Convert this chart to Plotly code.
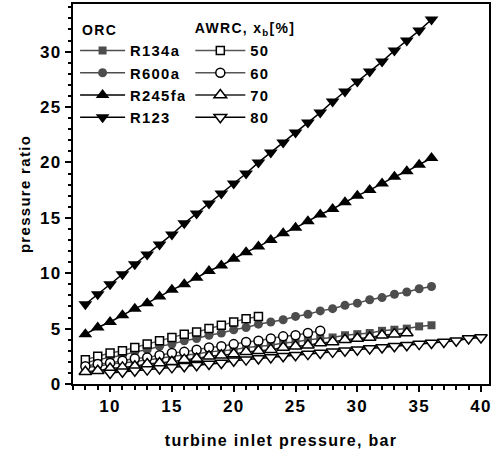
import plotly.graph_objects as go

# ---- data ----
x_orc = list(range(8, 37))
r134a = [1.5, 1.6, 1.8, 1.9, 2.0, 2.2, 2.3, 2.5, 2.6, 2.7, 2.9, 3.0, 3.1, 3.3, 3.4,
         3.5, 3.7, 3.8, 4.0, 4.1, 4.2, 4.4, 4.5, 4.6, 4.8, 4.9, 5.0, 5.2, 5.3]
r600a = [1.9, 2.2, 2.4, 2.6, 2.9, 3.1, 3.4, 3.6, 3.9, 4.1, 4.4, 4.6, 4.9, 5.1, 5.4,
         5.6, 5.8, 6.1, 6.3, 6.6, 6.8, 7.1, 7.3, 7.6, 7.8, 8.1, 8.3, 8.6, 8.8]
r245fa = [4.5, 5.1, 5.6, 6.2, 6.8, 7.3, 7.9, 8.5, 9.0, 9.6, 10.2, 10.7, 11.3, 11.9, 12.4,
          13.0, 13.6, 14.1, 14.7, 15.3, 15.8, 16.4, 17.0, 17.5, 18.1, 18.7, 19.2, 19.8, 20.4]
r123 = [7.2, 8.1, 9.0, 9.9, 10.8, 11.7, 12.6, 13.5, 14.5, 15.4, 16.3, 17.2, 18.1, 19.0, 20.0,
        20.9, 21.8, 22.7, 23.6, 24.5, 25.5, 26.4, 27.3, 28.2, 29.1, 30.1, 31.0, 31.9, 32.9]

x_50 = list(range(8, 23))
awrc_50 = [2.2, 2.5, 2.8, 3.0, 3.3, 3.6, 3.9, 4.2, 4.5, 4.7, 5.0, 5.3, 5.6, 5.9, 6.1]
x_60 = list(range(8, 28))
awrc_60 = [1.6, 1.8, 1.9, 2.1, 2.3, 2.4, 2.6, 2.8, 2.9, 3.1, 3.3, 3.4, 3.6, 3.8, 3.9,
           4.1, 4.3, 4.4, 4.6, 4.8]
x_70 = list(range(8, 35))
awrc_70 = [1.1, 1.2, 1.4, 1.5, 1.6, 1.8, 1.9, 2.0, 2.2, 2.3, 2.5, 2.6, 2.7, 2.9, 3.0,
           3.1, 3.3, 3.4, 3.5, 3.7, 3.8, 4.0, 4.1, 4.2, 4.4, 4.5, 4.6]
x_80 = list(range(10, 41))
awrc_80 = [1.0, 1.1, 1.2, 1.3, 1.4, 1.5, 1.6, 1.7, 1.8, 1.9, 2.1, 2.2, 2.3, 2.4, 2.5,
           2.6, 2.7, 2.8, 2.9, 3.0, 3.1, 3.2, 3.3, 3.4, 3.5, 3.6, 3.7, 3.8, 3.9, 4.1, 4.2]

orc_names = ["R134a", "R600a", "R245fa", "R123"]
awrc_names = ["50", "60", "70", "80"]
header_orc = "ORC"
header_awrc = "AWRC, x<sub>b</sub>[%]"

FONT = "Liberation Sans, Arial, sans-serif"

fig = go.Figure()

orc_styles = [("square", "#4d4d4d", 8), ("circle", "#4d4d4d", 9),
              ("triangle-up", "#000000", 12), ("triangle-down", "#000000", 12)]
for name, ys, (sym, col, sz) in zip(orc_names, [r134a, r600a, r245fa, r123], orc_styles):
    fig.add_trace(go.Scatter(
        x=x_orc, y=ys, name=name, mode="lines+markers", legend="legend",
        line=dict(color=col, width=1.5),
        marker=dict(symbol=sym, size=sz, color=col, line=dict(width=0)),
    ))

awrc_styles = [("square", "#555555", 8), ("circle", "#555555", 9),
               ("triangle-up", "#222222", 11), ("triangle-down", "#000000", 11)]
for name, xs, ys, (sym, col, sz) in zip(awrc_names, [x_50, x_60, x_70, x_80],
                                        [awrc_50, awrc_60, awrc_70, awrc_80], awrc_styles):
    fig.add_trace(go.Scatter(
        x=xs, y=ys, name=name, mode="lines+markers", legend="legend2",
        line=dict(color=col, width=1.5),
        marker=dict(symbol=sym, size=sz, color="white", line=dict(width=1.5, color="black")),
    ))

axis_common = dict(
    showline=True, linecolor="black", linewidth=2, mirror=True,
    ticks="outside", ticklen=6, tickwidth=2, tickcolor="black",
    showgrid=False, zeroline=False,
    tickfont=dict(family=FONT, size=17, color="black", weight="bold"),
    minor=dict(ticks="outside", ticklen=3.5, tickwidth=1.5, tickcolor="black", dtick=1),
)

legend_common = dict(
    xanchor="left", yanchor="top", bgcolor="rgba(0,0,0,0)",
    font=dict(family=FONT, size=14.8, color="black", weight="bold"),
)

fig.update_layout(
    width=493, height=449,
    margin=dict(l=73, r=2, t=4, b=64),
    paper_bgcolor="white", plot_bgcolor="white",
    font=dict(family=FONT, color="black"),
    xaxis=dict(range=[7.0, 40.65], tick0=0, dtick=5,
               title=dict(text="turbine inlet pressure, bar", standoff=19,
                          font=dict(family=FONT, size=16, color="black", weight="bold")),
               **axis_common),
    yaxis=dict(range=[0, 34.3], tick0=0, dtick=5,
               title=dict(text="pressure ratio", standoff=8,
                          font=dict(family=FONT, size=15, color="black", weight="bold")),
               **axis_common),
    legend=dict(x=0.005, y=0.920, itemwidth=45, **legend_common),
    legend2=dict(x=0.282, y=0.920, itemwidth=50, **legend_common),
    annotations=[
        dict(text=header_orc, x=0.022, y=0.932, xref="paper", yref="paper",
             xanchor="left", yanchor="middle", showarrow=False,
             font=dict(family=FONT, size=14, color="black", weight="bold")),
        dict(text=header_awrc, x=0.306, y=0.935, xref="paper", yref="paper",
             xanchor="left", yanchor="middle", showarrow=False,
             font=dict(family=FONT, size=14, color="black", weight="bold")),
    ],
)

post = """
document.querySelectorAll('.main-svg text').forEach(function(t){t.style.letterSpacing='1.3px';});
"""
fig.write_html("out.html", post_script=post)
